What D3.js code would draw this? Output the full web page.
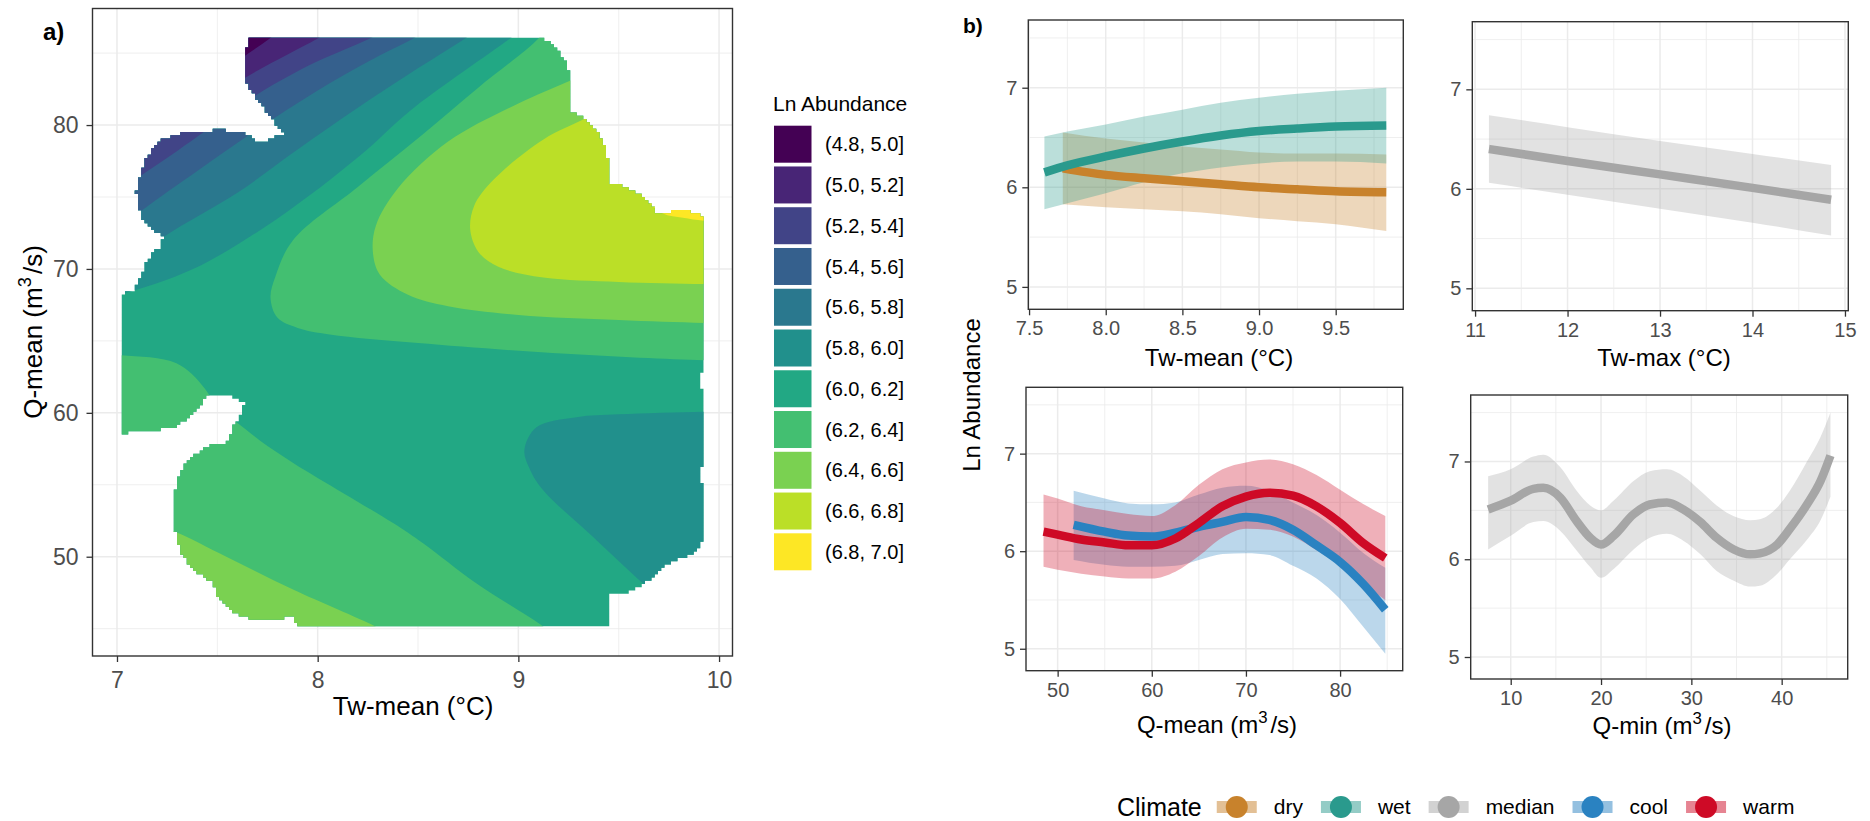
<!DOCTYPE html>
<html>
<head>
<meta charset="utf-8">
<title>Ln Abundance response to water temperature and discharge</title>
<script src="https://d3js.org/d3.v7.min.js"></script>
<style>
  html, body { margin: 0; padding: 0; background: #ffffff; }
  svg { display: block; }
</style>
</head>
<body>
<svg id="fig" width="1870" height="821"></svg>
<script>
// ================= Panel a: fitted Ln Abundance surface =================
const abundanceBins = ["(4.8, 5.0]", "(5.0, 5.2]", "(5.2, 5.4]", "(5.4, 5.6]", "(5.6, 5.8]",
  "(5.8, 6.0]", "(6.0, 6.2]", "(6.2, 6.4]", "(6.4, 6.6]", "(6.6, 6.8]", "(6.8, 7.0]"];
const twMeanTicksA = [7, 8, 9, 10];
const twMeanMinorA = [7.5, 8.5, 9.5];
const qMeanTicksA = [50, 60, 70, 80];
const qMeanMinorA = [45, 55, 65, 75, 85];

// outline of the sampled Tw-mean [°C] / Q-mean [m3/s] space
const sampledSpace = [
  [7.661, 86.02], [9.117, 86.02], [9.158, 85.72], [9.208, 85.03], [9.241, 84.34], [9.258, 83.29],
  [9.258, 82.25], [9.266, 80.86], [9.292, 80.74], [9.358, 80.16], [9.408, 79.24], [9.441, 78.08],
  [9.45, 77.15], [9.458, 75.99], [9.525, 75.76], [9.591, 75.3], [9.658, 74.6], [9.69, 73.91],
  [9.724, 73.8], [9.79, 74.1], [9.89, 73.91], [9.926, 73.68],
  [9.926, 62.97], [9.904, 62.74], [9.904, 61.7], [9.926, 61.58], [9.926, 56.4], [9.904, 56.25],
  [9.904, 55.21], [9.926, 55.1], [9.926, 51.4], [9.907, 50.7], [9.857, 50.12], [9.791, 49.78],
  [9.724, 49.31], [9.691, 48.85], [9.608, 47.92], [9.525, 47.46], [9.458, 47.34], [9.458, 45.14],
  [7.894, 45.14], [7.885, 45.93], [7.811, 45.65], [7.678, 45.65], [7.611, 45.88], [7.545, 46.57],
  [7.503, 47.26], [7.478, 48.19], [7.429, 48.65], [7.362, 49.34], [7.312, 50.5], [7.288, 51.88],
  [7.288, 54.19], [7.296, 55.35], [7.329, 56.27], [7.379, 56.97], [7.445, 57.66], [7.562, 58.0],
  [7.57, 58.8], [7.611, 59.73], [7.636, 60.66], [7.578, 61.12], [7.495, 61.35], [7.454, 61.24],
  [7.412, 60.42], [7.362, 59.73], [7.296, 59.03], [7.197, 58.8], [7.021, 58.57],
  [7.021, 68.25], [7.08, 68.48], [7.113, 69.29], [7.138, 70.21], [7.17, 71.02], [7.22, 71.6],
  [7.229, 72.3], [7.179, 72.76], [7.13, 73.45], [7.105, 74.38], [7.096, 75.3], [7.113, 76.46],
  [7.138, 77.5], [7.179, 78.31], [7.229, 79.0], [7.296, 79.35], [7.379, 79.58], [7.512, 79.65],
  [7.595, 79.58], [7.661, 79.35], [7.694, 78.89], [7.745, 78.89], [7.786, 79.24], [7.836, 79.35],
  [7.811, 79.7], [7.761, 80.63], [7.711, 81.56], [7.661, 82.48], [7.636, 83.41], [7.641, 85.26]
];

// iso-lines of the fitted surface, [Tw-mean °C, Q-mean m3/s]
const iso50 = [[7.45, 83.0], [7.636, 84.8], [7.761, 86.02], [7.85, 87.0]];
const iso52 = [[7.40, 80.9], [7.641, 83.3], [7.85, 84.9], [8.0, 86.02], [8.12, 87.0]];
const iso54 = [[6.95, 74.8], [7.105, 76.35], [7.3, 78.2], [7.445, 79.63], [7.65, 81.7], [7.95, 84.1], [8.26, 86.02], [8.4, 87.0]];
const iso56 = [[6.95, 72.2], [7.13, 74.13], [7.4, 76.8], [7.7, 79.7], [8.0, 82.4], [8.25, 84.4], [8.476, 86.02], [8.6, 87.0]];
const iso58 = [[7.0, 69.9], [7.237, 72.28], [7.6, 75.3], [7.9, 78.3], [8.2, 81.2], [8.461, 83.6], [8.735, 86.02], [8.85, 87.1]];
const iso60Upper = [[6.85, 67.8], [7.021, 68.25], [7.379, 69.99], [7.795, 73.46], [8.21, 77.86], [8.461, 81.0], [8.959, 86.02], [9.05, 87.0]];
const iso60Lower = [[10.2, 60.1], [9.926, 60.08], [9.5, 59.9], [9.29, 59.7], [9.09, 59.0], [9.03, 57.4], [9.06, 56.0], [9.125, 54.6], [9.37, 51.4], [9.62, 48.15], [9.8, 46.0]];
const iso62Upper = [[9.15, 87.0], [9.1, 86.02], [8.8, 82.6], [8.526, 79.38], [8.2, 75.7], [7.877, 72.0], [7.79, 69.5], [7.765, 68.0], [7.8, 66.6], [7.9, 65.9], [8.06, 65.45], [8.5, 64.85], [9.24, 64.1], [9.926, 63.65], [10.2, 63.6]];
const iso64Upper = [[9.5, 84.6], [9.26, 83.1], [9.0, 81.5], [8.65, 78.85], [8.4, 75.6], [8.29, 73.0], [8.275, 71.2], [8.31, 69.6], [8.45, 68.2], [8.65, 67.4], [9.0, 66.8], [9.5, 66.45], [9.926, 66.25], [10.2, 66.2]];
const iso66 = [[9.5, 81.8], [9.34, 80.5], [9.125, 79.0], [8.876, 76.2], [8.78, 74.4], [8.76, 72.75], [8.8, 71.2], [8.9, 70.15], [9.125, 69.4], [9.5, 69.1], [9.926, 68.95], [10.2, 68.9]];
const iso68 = [[9.65, 74.6], [9.72, 73.85], [9.82, 73.55], [9.926, 73.35], [10.2, 73.3]];
const iso62Left = [[6.8, 64.05], [7.021, 64.0], [7.296, 63.44], [7.43, 61.82], [7.47, 60.8], [7.44, 59.5], [7.3, 58.3]];
const iso62Lower = [[7.45, 60.6], [7.58, 59.5], [7.71, 58.1], [7.88, 56.5], [8.13, 54.4], [8.38, 52.3], [8.525, 50.93], [8.79, 48.15], [9.125, 45.14], [9.2, 44.2]];
const iso64Lower = [[7.15, 52.3], [7.288, 51.74], [7.545, 50.0], [7.88, 47.7], [8.29, 45.14], [8.4, 44.3]];

// band filled on the far side of each iso-line, in painting order
const baseBin = 6;
const bandLayers = [
  { line: iso60Upper, bin: 5, side: [["min", "max"]] },
  { line: iso58, bin: 4, side: [["min", "max"]] },
  { line: iso56, bin: 3, side: [["min", "max"]] },
  { line: iso54, bin: 2, side: [["min", "max"]] },
  { line: iso52, bin: 1, side: [["min", "max"]] },
  { line: iso50, bin: 0, side: [["min", "max"]] },
  { line: iso60Lower, bin: 5, side: [["max", "min"]] },
  { line: iso62Upper, bin: 7, side: [["max", "max"]] },
  { line: iso64Upper, bin: 8, side: [["max", "max"]] },
  { line: iso66, bin: 9, side: [["max", "max"]] },
  { line: iso68, bin: 10, side: [["max", "max"]] },
  { line: iso62Left, bin: 7, side: [["min", "last"], ["min", "first"]] },
  { line: iso62Lower, bin: 7, side: [["min", "min"]] },
  { line: iso64Lower, bin: 8, side: [["min", "min"]] }
];

// ================= Panel b: partial effects =================
const lnTicks = [5, 6, 7];
const lnMinor = [5.5, 6.5, 7.5];
const twMeanTicksB = [7.5, 8.0, 8.5, 9.0, 9.5];
const twMeanMinorB = [7.75, 8.25, 8.75, 9.25, 9.75];
const twMaxTicks = [11, 12, 13, 14, 15];
const twMaxMinor = [11.5, 12.5, 13.5, 14.5];
const qMeanTicksB = [50, 60, 70, 80];
const qMeanMinorB = [55, 65, 75, 85];
const qMinTicks = [10, 20, 30, 40];
const qMinMinor = [15, 25, 35, 45];

// rows: [x, fit, lower, upper]
const dryTwMean = [
  [7.72, 6.19, 5.83, 6.55], [8.00, 6.125, 5.80, 6.49], [8.25, 6.09, 5.78, 6.45], [8.50, 6.06, 5.76, 6.41],
  [8.75, 6.03, 5.73, 6.38], [9.00, 6.00, 5.69, 6.35], [9.25, 5.98, 5.66, 6.34], [9.50, 5.96, 5.63, 6.34],
  [9.83, 5.95, 5.56, 6.33]
];
const wetTwMean = [
  [7.60, 6.15, 5.78, 6.51], [7.75, 6.22, 5.84, 6.56], [8.00, 6.31, 5.94, 6.63], [8.25, 6.39, 6.05, 6.71],
  [8.50, 6.46, 6.14, 6.78], [8.75, 6.52, 6.20, 6.85], [9.00, 6.565, 6.24, 6.90], [9.25, 6.59, 6.26, 6.94],
  [9.50, 6.61, 6.26, 6.97], [9.83, 6.62, 6.24, 7.00]
];
const medianTwMax = [
  [11.15, 6.40, 6.06, 6.74], [12.0, 6.28, 5.94, 6.62], [13.0, 6.145, 5.80, 6.48],
  [14.0, 6.01, 5.66, 6.35], [14.85, 5.89, 5.53, 6.24]
];
const coolQMean = [
  [51.7, 6.27, 5.91, 6.62], [55.0, 6.20, 5.86, 6.54], [57.5, 6.16, 5.84, 6.49], [60.0, 6.15, 5.84, 6.48],
  [62.5, 6.19, 5.85, 6.50], [65.0, 6.25, 5.91, 6.58], [67.5, 6.30, 5.97, 6.65], [70.0, 6.35, 5.98, 6.67],
  [72.5, 6.32, 5.96, 6.62], [75.0, 6.22, 5.85, 6.50], [77.5, 6.06, 5.72, 6.37], [80.0, 5.89, 5.51, 6.19],
  [82.5, 5.66, 5.22, 5.98], [84.8, 5.40, 4.95, 5.83]
];
const warmQMean = [
  [48.5, 6.20, 5.84, 6.58], [50.0, 6.17, 5.81, 6.54], [52.5, 6.12, 5.77, 6.46], [55.0, 6.09, 5.74, 6.42],
  [57.5, 6.06, 5.72, 6.38], [60.0, 6.06, 5.72, 6.36], [62.5, 6.13, 5.79, 6.47], [65.0, 6.29, 5.95, 6.68],
  [67.5, 6.46, 6.14, 6.84], [70.0, 6.56, 6.23, 6.91], [72.5, 6.60, 6.22, 6.94], [75.0, 6.57, 6.15, 6.89],
  [77.5, 6.46, 6.01, 6.78], [80.0, 6.29, 5.86, 6.63], [82.5, 6.08, 5.66, 6.48], [84.8, 5.93, 5.50, 6.36]
];
const medianQMin = [
  [7.5, 6.51, 6.10, 6.85], [10.0, 6.60, 6.24, 6.92], [12.5, 6.72, 6.38, 7.05], [13.6, 6.73, 6.39, 7.07],
  [15.5, 6.63, 6.29, 6.94], [17.3, 6.39, 6.09, 6.70], [18.8, 6.22, 5.92, 6.55], [20.0, 6.15, 5.81, 6.50],
  [21.4, 6.24, 5.90, 6.60], [23.6, 6.46, 6.10, 6.80], [25.4, 6.56, 6.22, 6.90], [27.3, 6.58, 6.26, 6.92],
  [29.1, 6.51, 6.19, 6.85], [31.0, 6.38, 6.05, 6.70], [32.8, 6.22, 5.88, 6.55], [34.7, 6.10, 5.78, 6.44],
  [36.5, 6.05, 5.72, 6.40], [37.6, 6.06, 5.73, 6.41], [39.5, 6.15, 5.85, 6.53], [40.9, 6.31, 6.00, 6.70],
  [42.8, 6.56, 6.20, 7.00], [44.3, 6.80, 6.40, 7.25], [45.4, 7.06, 6.64, 7.50]
];
const climateLevels = ["dry", "wet", "median", "cool", "warm"];

// ---------------- styling ----------------
const FONT = "'Liberation Sans', Arial, Helvetica, sans-serif";
const binColors = ["#440154", "#482576", "#414487", "#35608D", "#2A788E", "#21908C",
  "#22A884", "#43BF71", "#7AD151", "#BBDF27", "#FDE725"];
const climateColors = { dry: "#C8822C", wet: "#2A9A8D", median: "#A6A6A6", cool: "#2A82C1", warm: "#CE0A26" };
const RIBBON_ALPHA = 0.32;
const LINE_W = 8.5;
const RASTER_CELL = 3.25;   // size of one raster tile of the surface, px

const svg = d3.select("#fig").attr("font-family", FONT);
svg.append("rect").attr("width", 1870).attr("height", 821).attr("fill", "#ffffff");

function panelBackground(g, x, y, xMajor, xMinor, yMajor, yMinor) {
  const [x0, x1] = x.range(), [y0, y1] = y.range();
  g.append("rect").attr("x", x0).attr("y", y1).attr("width", x1 - x0).attr("height", y0 - y1).attr("fill", "#ffffff");
  const grid = g.append("g").attr("stroke", "#ebebeb");
  const xs = (vals, w) => grid.append("g").selectAll("line").data(vals.filter(v => v >= x.domain()[0] && v <= x.domain()[1])).join("line")
    .attr("x1", d => x(d)).attr("x2", d => x(d)).attr("y1", y0).attr("y2", y1).attr("stroke-width", w);
  const ys = (vals, w) => grid.append("g").selectAll("line").data(vals.filter(v => v >= y.domain()[0] && v <= y.domain()[1])).join("line")
    .attr("y1", d => y(d)).attr("y2", d => y(d)).attr("x1", x0).attr("x2", x1).attr("stroke-width", w);
  xs(xMinor, 0.8); ys(yMinor, 0.8); xs(xMajor, 1.5); ys(yMajor, 1.5);
}

function panelBorder(g, x, y) {
  const [x0, x1] = x.range(), [y0, y1] = y.range();
  g.append("rect").attr("x", x0).attr("y", y1).attr("width", x1 - x0).attr("height", y0 - y1)
    .attr("fill", "none").attr("stroke", "#333333").attr("stroke-width", 1.4);
}

function panelAxes(g, x, y, xTicks, yTicks, xFmt, size, padX, padY) {
  const ax = g.append("g").attr("transform", `translate(0,${y.range()[0]})`)
    .call(d3.axisBottom(x).tickValues(xTicks).tickFormat(xFmt).tickSize(6).tickPadding(padX));
  const ay = g.append("g").attr("transform", `translate(${x.range()[0]},0)`)
    .call(d3.axisLeft(y).tickValues(yTicks).tickFormat(d3.format("d")).tickSize(6).tickPadding(padY));
  [ax, ay].forEach(a => {
    a.attr("font-family", FONT).attr("font-size", size);
    a.select(".domain").remove();
    a.selectAll(".tick line").attr("stroke", "#333333").attr("stroke-width", 1.3);
    a.selectAll(".tick text").attr("fill", "#4d4d4d");
  });
}

// axis title; parts are [text, isSuperscript]
function axisTitle(parent, cx, cy, parts, size, rotate) {
  const t = parent.append("text").attr("text-anchor", "middle").attr("font-size", size).attr("fill", "#000")
    .attr("transform", rotate ? `translate(${cx},${cy}) rotate(-90)` : `translate(${cx},${cy})`);
  parts.forEach(([s, sup], i) => {
    const ts = t.append("tspan").text(s);
    if (sup) ts.attr("font-size", size * 0.7).attr("dy", -size * 0.42);
    else if (i > 0 && parts[i - 1][1]) ts.attr("dy", size * 0.42).attr("dx", size * 0.12);
  });
  return t;
}

// ---------------- Panel a ----------------
const xA = d3.scaleLinear([6.878, 10.067], [92.5, 732.5]);
const yA = d3.scaleLinear([43.1, 88.1], [656, 8.5]);
const gA = svg.append("g");
panelBackground(gA, xA, yA, twMeanTicksA, twMeanMinorA, qMeanTicksA, qMeanMinorA);

// the surface is drawn as raster tiles: keep every tile whose centre lies in the sampled space
const [ax0, ax1] = xA.range(), [ayB, ayT] = yA.range();
const nCol = Math.ceil((ax1 - ax0) / RASTER_CELL), nRow = Math.ceil((ayB - ayT) / RASTER_CELL);
let tilePath = "";
for (let j = 0; j < nRow; j++) {
  const cy = ayT + (j + 0.5) * RASTER_CELL;
  let runStart = -1;
  for (let i = 0; i <= nCol; i++) {
    const cx = ax0 + (i + 0.5) * RASTER_CELL;
    const inside = i < nCol && d3.polygonContains(sampledSpace, [xA.invert(cx), yA.invert(cy)]);
    if (inside && runStart < 0) runStart = i;
    if (!inside && runStart >= 0) {
      const x0 = ax0 + runStart * RASTER_CELL, y0 = ayT + j * RASTER_CELL;
      tilePath += `M${x0},${y0}h${(i - runStart) * RASTER_CELL}v${RASTER_CELL + 0.3}h${-(i - runStart) * RASTER_CELL}Z`;
      runStart = -1;
    }
  }
}
svg.append("defs").append("clipPath").attr("id", "sampled").append("path").attr("d", tilePath);

const surface = gA.append("g").attr("clip-path", "url(#sampled)");
surface.append("rect").attr("x", ax0).attr("y", ayT).attr("width", ax1 - ax0).attr("height", ayB - ayT)
  .attr("fill", binColors[baseBin]);

const isoCurve = d3.line().x(d => xA(d[0])).y(d => yA(d[1])).curve(d3.curveCatmullRom.alpha(0.5));
function layerPath(layer) {
  const pts = layer.line, first = pts[0], last = pts[pts.length - 1];
  const pick = (spec, k) => {
    const dom = k === 0 ? xA.domain() : yA.domain();
    if (spec === "min") return dom[0];
    if (spec === "max") return dom[1];
    return spec === "first" ? first[k] : last[k];
  };
  let d = isoCurve(pts);
  layer.side.forEach(([sx, sy]) => { d += `L${xA(pick(sx, 0))},${yA(pick(sy, 1))}`; });
  return d + "Z";
}
surface.selectAll("path.band").data(bandLayers).join("path").attr("class", "band")
  .attr("d", layerPath).attr("fill", d => binColors[d.bin]);

panelBorder(gA, xA, yA);
panelAxes(gA, xA, yA, twMeanTicksA, qMeanTicksA, d3.format("d"), 23, 10, 8);
axisTitle(svg, 413, 715, [["Tw-mean (°C)", false]], 26, false);
axisTitle(svg, 42, 332, [["Q-mean (m", false], ["3", true], ["/s)", false]], 26, true);
svg.append("text").attr("x", 43).attr("y", 40).attr("font-size", 24).attr("font-weight", "bold").text("a)");

// legend for the surface bins
const legA = svg.append("g");
legA.append("text").attr("x", 773).attr("y", 111).attr("font-size", 21).text("Ln Abundance");
const keyA = legA.selectAll("g.key").data(abundanceBins).join("g").attr("class", "key")
  .attr("transform", (d, i) => `translate(774,${125.7 + i * 40.76})`);
keyA.append("rect").attr("width", 37.5).attr("height", 37).attr("fill", (d, i) => binColors[i]);
keyA.append("text").attr("x", 51).attr("y", 18.5).attr("dy", "0.36em").attr("font-size", 20).attr("fill", "#000").text(d => d);

// ---------------- Panel b ----------------
const lnDomain = [4.775, 7.68];
const panelsB = [
  { x: d3.scaleLinear([7.495, 9.941], [1028.3, 1403.3]), y: d3.scaleLinear(lnDomain, [309.3, 20]),
    ticks: twMeanTicksB, minor: twMeanMinorB, fmt: d3.format(".1f"),
    series: [["dry", dryTwMean], ["wet", wetTwMean]], title: [["Tw-mean (°C)", false]], tx: 1219, ty: 366 },
  { x: d3.scaleLinear([10.97, 15.036], [1472.3, 1848.3]), y: d3.scaleLinear(lnDomain, [310.7, 21.7]),
    ticks: twMaxTicks, minor: twMaxMinor, fmt: d3.format("d"),
    series: [["median", medianTwMax]], title: [["Tw-max (°C)", false]], tx: 1664, ty: 366 },
  { x: d3.scaleLinear([46.64, 86.65], [1026, 1402.7]), y: d3.scaleLinear(lnDomain, [670.7, 387.3]),
    ticks: qMeanTicksB, minor: qMeanMinorB, fmt: d3.format("d"),
    series: [["cool", coolQMean], ["warm", warmQMean]], title: [["Q-mean (m", false], ["3", true], ["/s)", false]], tx: 1217, ty: 733 },
  { x: d3.scaleLinear([5.57, 47.31], [1470.7, 1847.7]), y: d3.scaleLinear(lnDomain, [679, 395]),
    ticks: qMinTicks, minor: qMinMinor, fmt: d3.format("d"),
    series: [["median", medianQMin]], title: [["Q-min (m", false], ["3", true], ["/s)", false]], tx: 1662, ty: 734 }
];

panelsB.forEach(p => {
  const g = svg.append("g");
  panelBackground(g, p.x, p.y, p.ticks, p.minor, lnTicks, lnMinor);
  const band = d3.area().x(d => p.x(d[0])).y0(d => p.y(d[2])).y1(d => p.y(d[3])).curve(d3.curveMonotoneX);
  const fit = d3.line().x(d => p.x(d[0])).y(d => p.y(d[1])).curve(d3.curveMonotoneX);
  p.series.forEach(([name, rows]) => {
    g.append("path").attr("d", band(rows)).attr("fill", climateColors[name]).attr("fill-opacity", RIBBON_ALPHA);
  });
  p.series.forEach(([name, rows]) => {
    g.append("path").attr("d", fit(rows)).attr("fill", "none").attr("stroke", climateColors[name])
      .attr("stroke-width", LINE_W).attr("stroke-linejoin", "round");
  });
  panelBorder(g, p.x, p.y);
  panelAxes(g, p.x, p.y, p.ticks, lnTicks, p.fmt, 20, 6, 5);
  axisTitle(svg, p.tx, p.ty, p.title, 24, false);
});

svg.append("text").attr("x", 963).attr("y", 33).attr("font-size", 21).attr("font-weight", "bold").text("b)");
axisTitle(svg, 980, 395, [["Ln Abundance", false]], 24, true);

// ---------------- Climate legend ----------------
const legB = svg.append("g");
const keyY = 807;
const legTitle = legB.append("text").attr("x", 1117).attr("y", keyY).attr("dy", "0.35em").attr("font-size", 25).text("Climate");
let kx = 1117 + legTitle.node().getComputedTextLength() + 15;
climateLevels.forEach(name => {
  legB.append("rect").attr("x", kx).attr("y", keyY - 6).attr("width", 40).attr("height", 12)
    .attr("fill", climateColors[name]).attr("fill-opacity", 0.5);
  legB.append("circle").attr("cx", kx + 20).attr("cy", keyY).attr("r", 11).attr("fill", climateColors[name]);
  const lab = legB.append("text").attr("x", kx + 57).attr("y", keyY).attr("dy", "0.35em").attr("font-size", 21).text(name);
  kx += 57 + lab.node().getComputedTextLength() + 18;
});
</script>
</body>
</html>
